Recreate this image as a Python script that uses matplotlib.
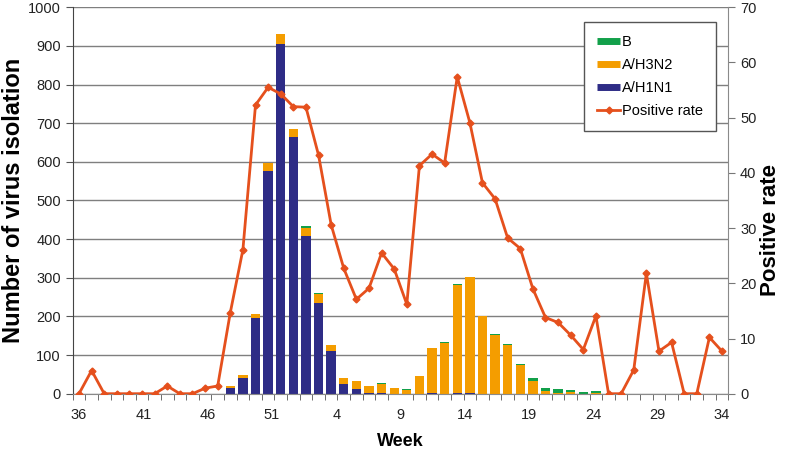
import numpy as np
import matplotlib
matplotlib.use("Agg")
import matplotlib.pyplot as plt
from matplotlib.lines import Line2D

plt.rcParams['font.family'] = ['Liberation Sans', 'DejaVu Sans']

# weeks 36..53 then 1..34
weeks = list(range(36, 54)) + list(range(1, 35))
tick_labels = ['36', '41', '46', '51', '4', '9', '14', '19', '24', '29', '34']

h1n1 = [0] * 12 + [15, 41, 197, 577, 904, 663, 408, 234, 110, 25,
                   12, 2, 1, 0, 0, 0, 1, 0, 2, 1,
                   0, 0, 0, 0, 0, 0, 0, 0, 0, 0] + [0] * 10
h3n2 = [0] * 12 + [5, 7, 10, 21, 27, 21, 22, 24, 15, 15,
                   22, 17, 25, 15, 9, 47, 116, 130, 279, 300,
                   200, 151, 125, 73, 34, 8, 3, 4, 0, 1] + [0] * 10
flu_b = [0] * 12 + [0, 0, 0, 0, 0, 0, 3, 2, 0, 0,
                    0, 0, 2, 0, 2, 0, 0, 3, 3, 2,
                    2, 3, 4, 4, 6, 7, 10, 5, 4, 6] + [0] * 10

pos_rate = [0, 4.2, 0, 0, 0, 0, 0, 1.4, 0, 0,
            1.0, 1.4, 14.7, 26.1, 52.3, 55.5, 54.3, 52.0, 51.9, 43.2,
            30.6, 22.7, 17.1, 19.1, 25.5, 22.6, 16.2, 41.3, 43.4, 41.8,
            57.4, 49.1, 38.2, 35.3, 28.2, 26.3, 19.0, 13.8, 12.9, 10.6,
            8.0, 14.1, 0, 0, 4.3, 21.8, 7.7, 9.3, 0, 0,
            10.2, 7.7]

c_h1 = '#2E2C86'
c_h3 = '#F49D00'
c_b = '#12A04A'
c_line = '#E5501D'
grid_c = '#7f7f7f'

x = np.arange(len(weeks))
h1 = np.array(h1n1)
h3 = np.array(h3n2)
bb = np.array(flu_b)

fig = plt.figure(figsize=(7.86, 4.54), dpi=100)
ax = fig.add_axes([0.0925, 0.1328, 0.8341, 0.8512])

bw = 0.74
ax.bar(x, h1, bw, color=c_h1, zorder=2)
ax.bar(x, h3, bw, bottom=h1, color=c_h3, zorder=2)
ax.bar(x, bb, bw, bottom=h1 + h3, color=c_b, zorder=2)

ax.set_xlim(-0.5, len(weeks) - 0.5)
ax.set_ylim(0, 1000)
ax.set_yticks(np.arange(0, 1001, 100))
ax.yaxis.grid(True, color=grid_c, lw=1)
ax.set_axisbelow(True)

ax.set_xticks(np.linspace(0, len(weeks) - 1, len(tick_labels)))
ax.set_xticklabels(tick_labels)
ax.set_xticks(np.arange(-0.5, len(weeks)), minor=True)
ax.tick_params(axis='x', which='major', length=0, pad=10, labelsize=10.5, colors='#222222')
ax.tick_params(axis='x', which='minor', length=4, direction='out', color='#555555')
ax.tick_params(axis='y', length=5, direction='out', color='#555555', labelsize=10.5, labelcolor='#222222')

for s in ['top', 'right']:
    ax.spines[s].set_visible(False)
ax.spines['left'].set_color('#444444')
ax.spines['bottom'].set_color('#8a8a8a')

ax.set_xlabel('Week', fontsize=13, fontweight='bold', labelpad=8)
ax.set_ylabel('Number of virus isolation', fontsize=17, fontweight='bold', labelpad=2)

ax2 = ax.twinx()
ax2.plot(x, pos_rate, color=c_line, lw=2, marker='D', ms=3.5, zorder=3)
ax2.set_ylim(0, 70)
ax2.set_yticks(np.arange(0, 71, 10))
ax2.tick_params(axis='y', length=5, direction='out', color='#777777', labelsize=10.5, labelcolor='#222222')
for s in ['top', 'left', 'bottom']:
    ax2.spines[s].set_visible(False)
ax2.spines['right'].set_color('#8a8a8a')

# right axis title sits a bit below the middle in the original
fig.text(770 / 786, 1 - 230 / 454, 'Positive rate', fontsize=16, fontweight='bold',
         rotation=90, ha='center', va='center')

handles = [
    Line2D([0], [0], color=c_b, lw=5, solid_capstyle='butt'),
    Line2D([0], [0], color=c_h3, lw=5, solid_capstyle='butt'),
    Line2D([0], [0], color=c_h1, lw=5, solid_capstyle='butt'),
    Line2D([0], [0], color=c_line, lw=2, marker='D', ms=3.5),
]
leg = ax2.legend(handles, ['B', 'A/H3N2', 'A/H1N1', 'Positive rate'],
                 loc='upper right', bbox_to_anchor=(0.981, 0.961), borderaxespad=0,
                 fancybox=False, framealpha=1, edgecolor='#555555', fontsize=10.5,
                 handlelength=1.6, handletextpad=0.1, labelspacing=0.6,
                 borderpad=0.9)
leg.get_frame().set_linewidth(1)

fig.savefig('out.png', dpi=100)
